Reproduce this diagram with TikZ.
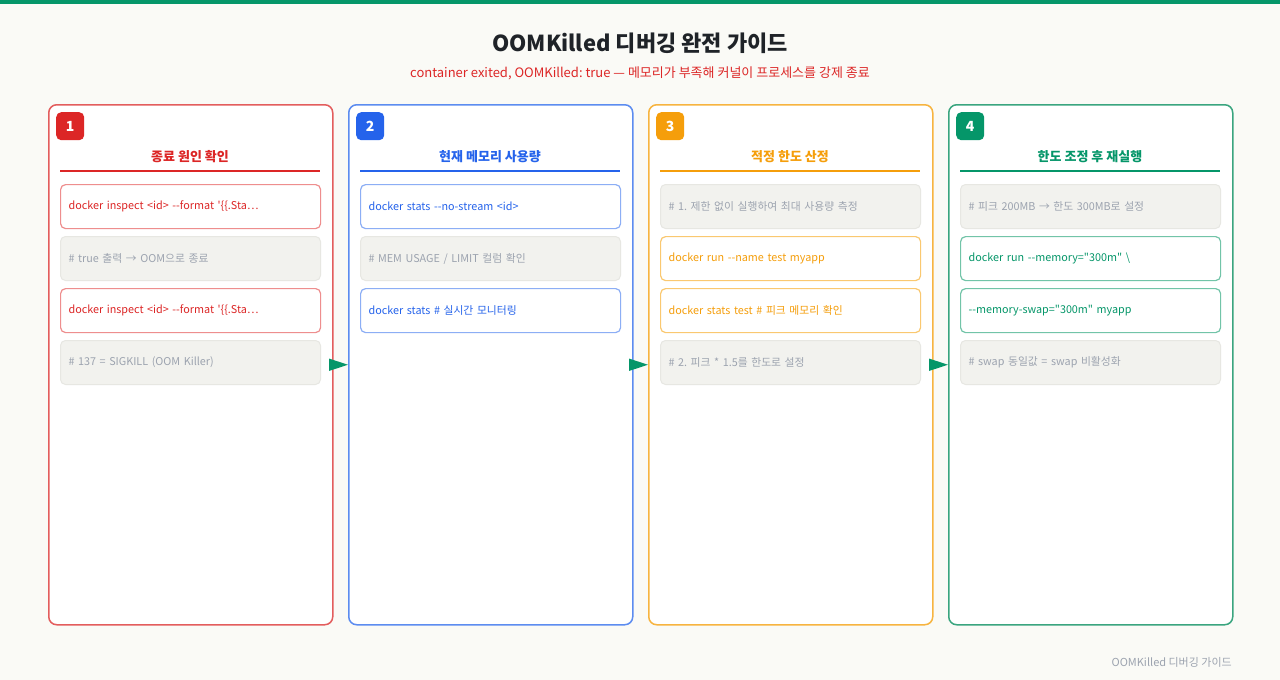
\documentclass[tikz,border=0pt]{standalone}
\usepackage{fontspec}
\newfontfamily\kr{Noto Sans CJK KR}
\usetikzlibrary{arrows.meta}
\frenchspacing
\definecolor{bg}{HTML}{FAFAF6}
\definecolor{topgreen}{HTML}{059669}
\definecolor{titlecol}{HTML}{1F2328}
\definecolor{cred}{HTML}{DC2626}
\definecolor{cblue}{HTML}{2563EB}
\definecolor{corange}{HTML}{F59E0B}
\definecolor{cgreen}{HTML}{059669}
\definecolor{pred}{HTML}{E35D5D}
\definecolor{pblue}{HTML}{5C8CF0}
\definecolor{porange}{HTML}{F7B440}
\definecolor{pgreen}{HTML}{3AA57F}
\definecolor{bred}{HTML}{EE8E8E}
\definecolor{bblue}{HTML}{8CAEF5}
\definecolor{borange}{HTML}{FAC870}
\definecolor{bgreen}{HTML}{72C4A8}
\definecolor{cmtfill}{HTML}{F2F2EE}
\definecolor{cmtline}{HTML}{E7E7E2}
\definecolor{cmttext}{HTML}{9CA3AF}
\definecolor{foot}{HTML}{9CA3AF}
\tikzset{
  panel/.style={draw, line width=1.5pt, rounded corners=8pt, fill=white, minimum width=284pt, minimum height=520pt, anchor=north west, inner sep=0pt},
  badge/.style={fill, rounded corners=5pt, minimum size=28pt, inner sep=0pt, text=white, font=\kr\bfseries\fontsize{14}{14}\selectfont, anchor=north west},
  ptitle/.style={font=\kr\bfseries\fontsize{13}{15}\selectfont, anchor=center, inner sep=0pt},
  uline/.style={line width=2pt},
  code/.style={draw, line width=1.2pt, rounded corners=5pt, fill=white, minimum height=44pt, text width=244pt, inner xsep=8pt, inner ysep=0pt, align=left, anchor=north west, font=\kr\fontsize{10.8}{13}\selectfont},
  cmt/.style={code, draw=cmtline, fill=cmtfill, text=cmttext, line width=1pt},
  arrow/.style={draw=topgreen, line width=1.5pt, -{Triangle[length=19pt,width=12pt]}}
}
\begin{document}
\begin{tikzpicture}[x=1pt,y=-1pt]
\useasboundingbox (0,0) rectangle (1280,680);
\fill[bg] (0,0) rectangle (1280,680);
\fill[topgreen] (0,0) rectangle (1280,4);
\node[font=\kr\bfseries\fontsize{22}{24}\selectfont, text=titlecol] (title) at (640,43) {OOMKilled 디버깅 완전 가이드};
\node[font=\kr\fontsize{13}{15}\selectfont, text=cred] (sub) at (640,73) {container exited, OOMKilled: true — 메모리가 부족해 커널이 프로세스를 강제 종료};
\node[font=\kr\fontsize{11}{13}\selectfont, text=foot, anchor=east, inner sep=0pt] (footer) at (1232,662) {OOMKilled 디버깅 가이드};
% panel 1
\node[panel, draw=pred] (p1) at (48,104) {};
\node[badge, fill=cred] (b1) at (56,112) {1};
\node[ptitle, text=cred] (t1) at (190,157) {종료 원인 확인};
\draw[uline, cred] (60,171) -- (320,171);
\node[code, draw=bred, text=cred] (i11) at (60,184) {docker inspect <id> -{}-format '\{\{.Sta…};
\node[cmt] (i12) at (60,236) {\# true 출력 → OOM으로 종료};
\node[code, draw=bred, text=cred] (i13) at (60,288) {docker inspect <id> -{}-format '\{\{.Sta…};
\node[cmt] (i14) at (60,340) {\# 137 = SIGKILL (OOM Killer)};
% panel 2
\node[panel, draw=pblue] (p2) at (348,104) {};
\node[badge, fill=cblue] (b2) at (356,112) {2};
\node[ptitle, text=cblue] (t2) at (490,157) {현재 메모리 사용량};
\draw[uline, cblue] (360,171) -- (620,171);
\node[code, draw=bblue, text=cblue] (i21) at (360,184) {docker stats -{}-no-stream <id>};
\node[cmt] (i22) at (360,236) {\# MEM USAGE / LIMIT 컬럼 확인};
\node[code, draw=bblue, text=cblue] (i23) at (360,288) {docker stats \# 실시간 모니터링};
% panel 3
\node[panel, draw=porange] (p3) at (648,104) {};
\node[badge, fill=corange] (b3) at (656,112) {3};
\node[ptitle, text=corange] (t3) at (790,157) {적정 한도 산정};
\draw[uline, corange] (660,171) -- (920,171);
\node[cmt] (i31) at (660,184) {\# 1. 제한 없이 실행하여 최대 사용량 측정};
\node[code, draw=borange, text=corange] (i32) at (660,236) {docker run -{}-name test myapp};
\node[code, draw=borange, text=corange] (i33) at (660,288) {docker stats test \# 피크 메모리 확인};
\node[cmt] (i34) at (660,340) {\# 2. 피크 * 1.5를 한도로 설정};
% panel 4
\node[panel, draw=pgreen] (p4) at (948,104) {};
\node[badge, fill=cgreen] (b4) at (956,112) {4};
\node[ptitle, text=cgreen] (t4) at (1090,157) {한도 조정 후 재실행};
\draw[uline, cgreen] (960,171) -- (1220,171);
\node[cmt] (i41) at (960,184) {\# 피크 200MB → 한도 300MB로 설정};
\node[code, draw=bgreen, text=cgreen] (i42) at (960,236) {docker run -{}-memory="300m" \textbackslash};
\node[code, draw=bgreen, text=cgreen] (i43) at (960,288) {-{}-memory-swap="300m" myapp};
\node[cmt] (i44) at (960,340) {\# swap 동일값 = swap 비활성화};
% arrows
\draw[arrow] ([xshift=-4pt]p1.east) -- (p2.west);
\draw[arrow] ([xshift=-4pt]p2.east) -- (p3.west);
\draw[arrow] ([xshift=-4pt]p3.east) -- (p4.west);
\end{tikzpicture}
\end{document}
